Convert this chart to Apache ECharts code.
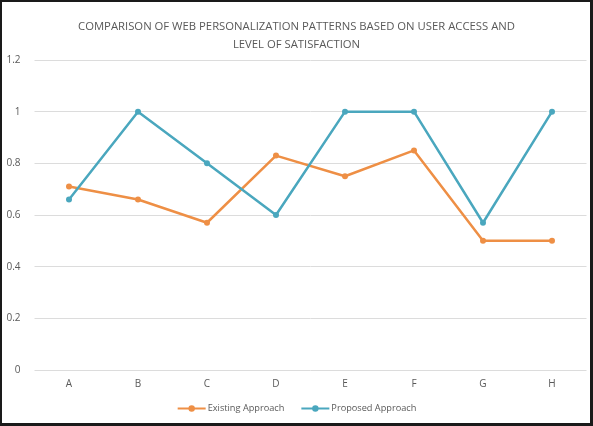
<!DOCTYPE html>
<html><head><meta charset="utf-8">
<script src="https://cdn.jsdelivr.net/npm/echarts@6/dist/echarts.min.js"></script>
<style>
html,body{margin:0;padding:0;background:#fff;}
#frame{position:absolute;left:0;top:0;width:593px;height:426px;box-sizing:border-box;border:2px solid #1a1a1a;border-right-width:3px;border-bottom-width:3px;}
#c{position:absolute;left:0;top:0;width:593px;height:426px;}
</style></head>
<body>
<div id="c"></div><div id="frame"></div>
<script>
const categories = ['A','B','C','D','E','F','G','H'];
const existingApproach = [0.71, 0.66, 0.57, 0.83, 0.75, 0.85, 0.50, 0.50];
const proposedApproach = [0.66, 1.00, 0.80, 0.60, 1.00, 1.00, 0.57, 1.00];
const titleText = 'COMPARISON OF WEB PERSONALIZATION PATTERNS BASED ON USER ACCESS AND\nLEVEL OF SATISFACTION';

const chart = echarts.init(document.getElementById('c'), null, {renderer:'canvas'});
const txt = '#595959';
chart.setOption({
  animation:false,
  backgroundColor:'#fff',
  title:{text:titleText,left:'center',top:13,
    textStyle:{fontFamily:'Open Sans',fontSize:11.3,fontWeight:'normal',color:txt,lineHeight:18}},
  grid:{left:34.5,right:6.5,top:60,bottom:56},
  legend:{bottom:8,left:'center',itemWidth:28,itemHeight:8,itemGap:16,
    textStyle:{fontFamily:'Open Sans',fontSize:9.2,color:txt,padding:[0,0,0,-3]},
    data:['Existing Approach','Proposed Approach']},
  xAxis:{type:'category',data:categories,boundaryGap:true,
    axisLine:{show:false},axisTick:{show:false},
    axisLabel:{color:txt,fontFamily:'Open Sans',fontSize:10,margin:9}},
  yAxis:{type:'value',min:0,max:1.2,interval:0.2,
    axisLine:{show:false},axisTick:{show:false},
    splitLine:{lineStyle:{color:'#dcdcdc',width:1}},
    axisLabel:{color:txt,fontFamily:'Open Sans',fontSize:10,margin:14,
      formatter:v=>String(Math.round(v*10)/10)}},
  series:[
    {name:'Existing Approach',type:'line',data:existingApproach,color:'#EE8F45',
      symbol:'circle',symbolSize:6,lineStyle:{width:2.5,color:'#EE8F45'},itemStyle:{color:'#EE8F45'}},
    {name:'Proposed Approach',type:'line',data:proposedApproach,color:'#4AA7BE',
      symbol:'circle',symbolSize:6,lineStyle:{width:2.5,color:'#4AA7BE'},itemStyle:{color:'#4AA7BE'}}
  ]
});
</script>
</body></html>
